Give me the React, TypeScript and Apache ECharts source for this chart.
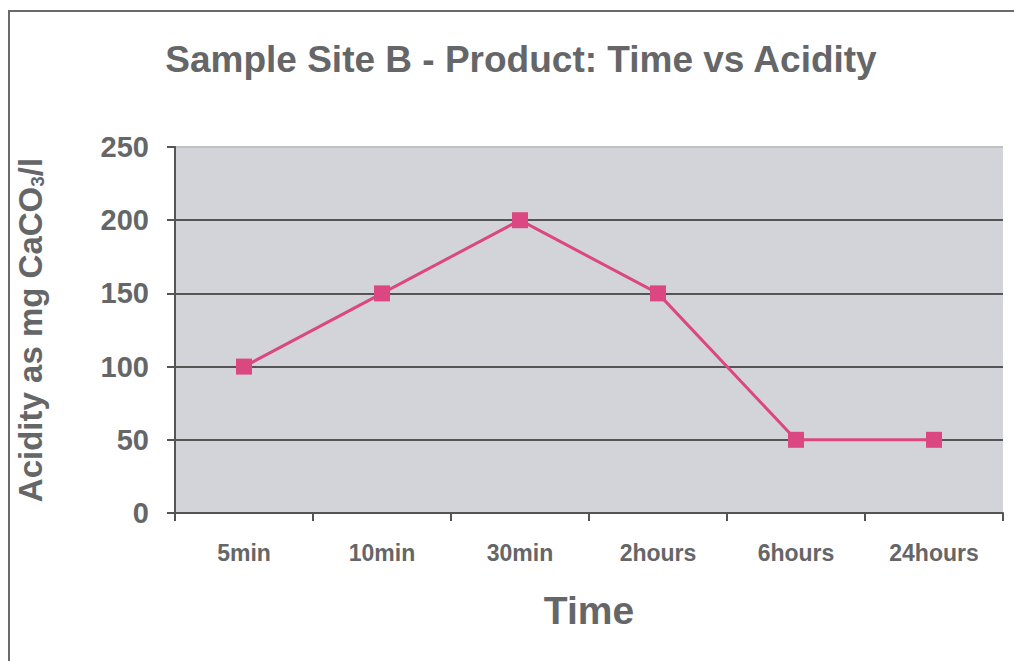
import React, { useEffect, useRef } from "react";
import * as echarts from "echarts";

const categories = ["5min", "10min", "30min", "2hours", "6hours", "24hours"];
const acidity = [100, 150, 200, 150, 50, 50];
const yTicks = [0, 50, 100, 150, 200, 250];

export default function App() {
  const ref = useRef<HTMLDivElement>(null);
  useEffect(() => {
    if (!ref.current) return;
    const chart = echarts.init(ref.current, null, { renderer: "svg" });
    const textColor = "#656668";
    chart.setOption({
      animation: false,
      backgroundColor: "#ffffff",
      title: {
        text: "Sample Site B - Product: Time vs Acidity",
        left: 516,
        textAlign: "center",
        top: 36,
        textStyle: {
          fontFamily: "Liberation Sans",
          fontWeight: "bold",
          fontSize: 37,
          color: textColor,
        },
      },
      graphic: [
        {
          type: "polyline",
          shape: { points: [[9, 661], [9, 11], [1014, 11]] },
          style: { stroke: "#6a6a6a", lineWidth: 2, fill: null },
          silent: true,
        },
      ],
      grid: {
        left: 175,
        right: 11,
        top: 147,
        bottom: 148,
        show: true,
        backgroundColor: "#d2d4da",
        borderWidth: 0,
      },
      xAxis: {
        type: "category",
        data: categories,
        boundaryGap: true,
        name: "Time",
        nameLocation: "middle",
        nameGap: 78,
        nameTextStyle: {
          fontFamily: "Liberation Sans",
          fontWeight: "bold",
          fontSize: 39,
          color: textColor,
        },
        axisLine: { show: true, lineStyle: { color: "#555555", width: 2 } },
        axisTick: { show: true, length: 8, lineStyle: { color: "#555555", width: 2 } },
        axisLabel: {
          margin: 28,
          fontFamily: "Liberation Sans",
          fontWeight: "bold",
          fontSize: 23,
          color: textColor,
        },
      },
      yAxis: {
        type: "value",
        min: yTicks[0],
        max: yTicks[yTicks.length - 1],
        interval: 50,
        name: "{a|Acidity as mg CaCO}{s|3}{a|/l}",
        nameLocation: "middle",
        nameRotate: 90,
        nameGap: 128,
        nameTextStyle: {
          rich: {
            a: {
              fontFamily: "Liberation Sans",
              fontWeight: "bold",
              fontSize: 33,
              color: textColor,
            },
            s: {
              fontFamily: "Liberation Sans",
              fontWeight: "bold",
              fontSize: 19,
              color: textColor,
              verticalAlign: "bottom",
              padding: [12, 0, 0, 0],
            },
          },
        },
        axisLine: { show: true, lineStyle: { color: "#555555", width: 2 } },
        axisTick: { show: true, length: 8, lineStyle: { color: "#555555", width: 2 } },
        axisLabel: {
          margin: 26,
          fontFamily: "Liberation Sans",
          fontWeight: "bold",
          fontSize: 29,
          color: textColor,
        },
        splitLine: {
          show: true,
          lineStyle: {
            color: ["#555555", "#555555", "#555555", "#555555", "#555555", "#bfc1c6"],
            width: 2,
          },
        },
      },
      series: [
        {
          type: "line",
          data: acidity,
          symbol: "rect",
          symbolSize: 16,
          lineStyle: { color: "#db4780", width: 3 },
          itemStyle: { color: "#db4780" },
        },
      ],
    });
    return () => chart.dispose();
  }, []);
  return (
    <div
      ref={ref}
      style={{ position: "fixed", left: 0, top: 0, width: 1014, height: 661 }}
    />
  );
}
